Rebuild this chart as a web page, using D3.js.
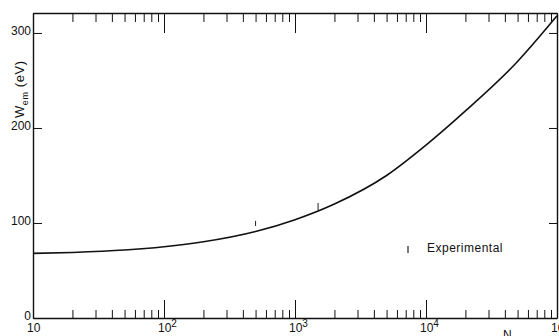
<!DOCTYPE html>
<html>
<head>
<meta charset="utf-8">
<script src="https://cdn.jsdelivr.net/npm/d3@7"></script>
<style>
  body { margin: 0; background: #fff; }
  svg { display: block; font-family: "Liberation Sans", Arial, sans-serif; }
  .axis path, .axis line { stroke: #111; }
  .axis text { fill: #111; font-size: 12px; }
</style>
</head>
<body>
<div id="chart"></div>
<script>
// curve W_em vs N
var nValues = [10, 20, 50, 100, 200, 500, 1000, 2000, 5000, 10000, 20000, 50000, 100000];
var wValues = [68, 69, 71.5, 75, 80.2, 91, 103.5, 120, 150, 182, 218, 270, 318];

// experimental points
var expN = [500, 1500];
var expW = [99.5, 117];
var expErr = [2.7, 4];

var majorTicks = [10, 100, 1000, 10000, 100000];
var tickExp = ["", "2", "3", "4", "5"];
var yTicks = [0, 100, 200, 300];

var width = 559, height = 336;
var margin = { top: 13, right: 2, bottom: 18, left: 33 };

var svg = d3.select("#chart").append("svg")
    .attr("width", width)
    .attr("height", height);

var x = d3.scaleLog()
    .domain([10, 100000])
    .range([margin.left, width - margin.right]);

var y = d3.scaleLinear()
    .domain([0, 321])
    .range([height - margin.bottom, margin.top]);

var minorTicks = [];
majorTicks.slice(0, -1).forEach(function (m) {
    for (var k = 2; k < 10; k++) minorTicks.push(m * k);
});

// bottom axis (ticks point inward)
svg.append("g")
    .attr("class", "axis")
    .attr("transform", "translate(0," + y(0) + ")")
    .call(d3.axisBottom(x).tickValues(minorTicks).tickSize(-8).tickSizeOuter(0).tickFormat(""))
    .call(function (g) { g.select(".domain").attr("stroke-width", 1.4); });

svg.append("g")
    .attr("class", "axis")
    .attr("transform", "translate(0," + y(0) + ")")
    .call(d3.axisBottom(x).tickValues(majorTicks).tickSize(-18).tickSizeOuter(0).tickFormat(""))
    .call(function (g) { g.select(".domain").remove(); });

// top axis
svg.append("g")
    .attr("class", "axis")
    .attr("transform", "translate(0," + margin.top + ")")
    .call(d3.axisTop(x).tickValues(minorTicks).tickSize(-9).tickSizeOuter(0).tickFormat(""))
    .call(function (g) { g.select(".domain").attr("stroke-width", 1.4); });

svg.append("g")
    .attr("class", "axis")
    .attr("transform", "translate(0," + margin.top + ")")
    .call(d3.axisTop(x).tickValues(majorTicks).tickSize(-20).tickSizeOuter(0).tickFormat(""))
    .call(function (g) { g.select(".domain").remove(); });

// left axis
svg.append("g")
    .attr("class", "axis")
    .attr("transform", "translate(" + margin.left + ",0)")
    .call(d3.axisLeft(y).tickValues(yTicks).tickSize(-9).tickSizeOuter(0).tickPadding(2))
    .call(function (g) {
        g.select(".domain").attr("stroke-width", 1.4);
        g.selectAll(".tick text").attr("dy", "0.1em");
    });

// right axis
svg.append("g")
    .attr("class", "axis")
    .attr("transform", "translate(" + (width - margin.right) + ",0)")
    .call(d3.axisRight(y).tickValues(yTicks.slice(1)).tickSize(-8).tickSizeOuter(0).tickFormat(""))
    .call(function (g) { g.select(".domain").attr("stroke-width", 1.4); });

// x labels with superscript powers
var xl = svg.append("g").attr("font-size", 12).attr("fill", "#111");
majorTicks.forEach(function (t, i) {
    var txt = xl.append("text")
        .attr("x", x(t) - 6)
        .attr("y", height - 4);
    txt.append("tspan").text("10");
    if (tickExp[i]) {
        txt.append("tspan").attr("dy", -5).attr("font-size", 10).text(tickExp[i]);
    }
});

svg.append("text")
    .attr("x", 503)
    .attr("y", 339)
    .attr("font-size", 12)
    .attr("fill", "#111")
    .text("N");

// y label
var yl = svg.append("text")
    .attr("transform", "translate(24,118) rotate(-90)")
    .attr("font-size", 13)
    .attr("fill", "#111")
    .attr("letter-spacing", 0.6);
yl.append("tspan").text("W");
yl.append("tspan").attr("dy", 4).attr("font-size", 9).text("em");
yl.append("tspan").attr("dy", -4).text(" (eV)");

// curve
var line = d3.line()
    .x(function (d, i) { return x(nValues[i]); })
    .y(function (d) { return y(d); })
    .curve(d3.curveMonotoneX);

svg.append("path")
    .datum(wValues)
    .attr("fill", "none")
    .attr("stroke", "#111")
    .attr("stroke-width", 1.6)
    .attr("d", line);

// experimental bars
svg.append("g")
    .selectAll("line")
    .data(expN)
    .enter().append("line")
    .attr("x1", function (d) { return x(d); })
    .attr("x2", function (d) { return x(d); })
    .attr("y1", function (d, i) { return y(expW[i] - expErr[i]); })
    .attr("y2", function (d, i) { return y(expW[i] + expErr[i]); })
    .attr("stroke", "#222")
    .attr("stroke-width", 1);

// legend
var legend = svg.append("g");
legend.append("line")
    .attr("x1", 408).attr("x2", 408)
    .attr("y1", 246).attr("y2", 253)
    .attr("stroke", "#222")
    .attr("stroke-width", 1.2);
legend.append("text")
    .attr("x", 427)
    .attr("y", 252)
    .attr("font-size", 12)
    .attr("letter-spacing", 0.5)
    .attr("fill", "#111")
    .text("Experimental");
</script>
</body>
</html>
